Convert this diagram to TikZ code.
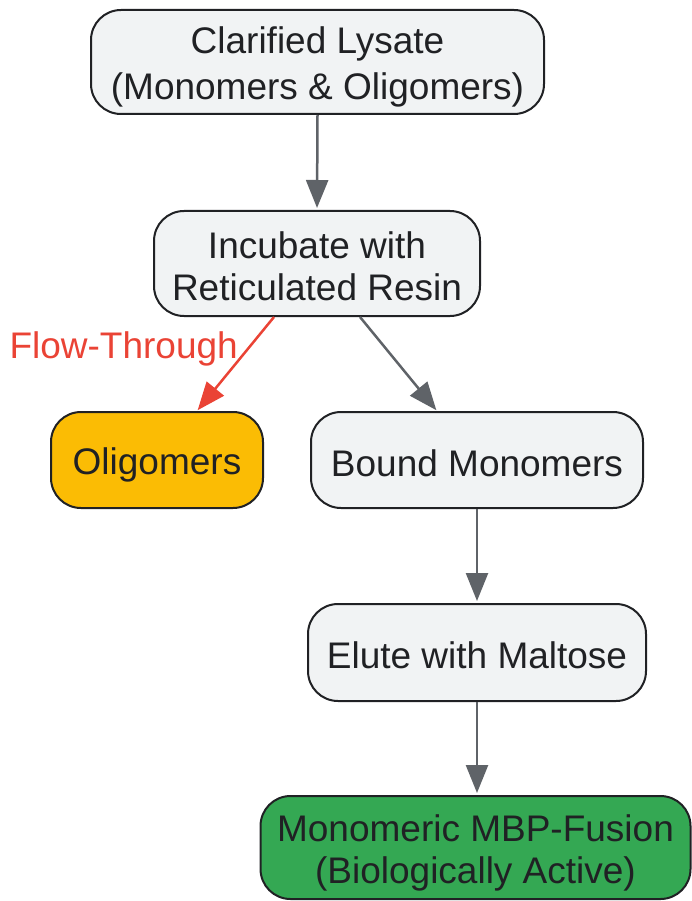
\documentclass[tikz,border=0pt]{standalone}
\usepackage{fontspec}
\setmainfont{Liberation Sans}
\usetikzlibrary{arrows.meta}
\definecolor{boxfill}{HTML}{F1F3F4}
\definecolor{boxline}{HTML}{202124}
\definecolor{arrowgray}{HTML}{5F6368}
\definecolor{flowred}{HTML}{EA4335}
\definecolor{olifill}{HTML}{FBBC04}
\definecolor{monofill}{HTML}{34A853}
\newcommand\lnstrut{\rule[-5pt]{0pt}{42pt}}
\begin{document}
\begin{tikzpicture}[x=1pt,y=-1pt,
  stepbox/.style={draw=boxline, line width=2pt, fill=boxfill, rounded corners=30pt,
    text=boxline, align=center, inner sep=0pt,
    font=\fontsize{37}{42}\selectfont},
  flow/.style={draw=arrowgray, line width=2.5pt, -{Triangle[length=28pt,width=22pt]}},
  redflow/.style={draw=flowred, line width=2.5pt, -{Triangle[length=28pt,width=22pt]}}]
\useasboundingbox (0,0) rectangle (692,901);
\node[stepbox, minimum width=453pt, minimum height=104pt] (lys) at (317.5,62) {\lnstrut Clarified Lysate\\\lnstrut(Monomers \& Oligomers)};
\node[stepbox, minimum width=326pt, minimum height=105pt] (inc) at (317,263.5) {\lnstrut Incubate with\\\lnstrut Reticulated Resin};
\node[stepbox, fill=olifill, minimum width=212pt, minimum height=96pt] (oli) at (157,460) {\lnstrut Oligomers};
\node[stepbox, minimum width=332pt, minimum height=96pt] (bound) at (477,460) {\lnstrut Bound Monomers};
\node[stepbox, minimum width=338pt, minimum height=97pt] (elute) at (477,652.5) {\lnstrut Elute with Maltose};
\node[stepbox, fill=monofill, minimum width=430pt, minimum height=103pt] (mono) at (475.5,847.5) {\lnstrut Monomeric MBP-Fusion\\\lnstrut(Biologically Active)};
\draw[flow, shorten >=2pt] (lys.south) -- (inc.north);
\draw[redflow, shorten >=1pt] ([xshift=-43pt]inc.south) -- node[pos=0.337, anchor=east, xshift=-9pt, inner sep=0pt, text=flowred, font=\fontsize{37}{42}\selectfont] (ftlabel) {Flow-Through} ([xshift=40pt]oli.north);
\draw[flow, shorten >=1pt] ([xshift=43pt]inc.south) -- ([xshift=-40pt]bound.north);
\draw[flow, shorten >=2pt] (bound.south) -- (elute.north);
\draw[flow, shorten >=2pt] (elute.south) -- (elute.south |- mono.north);
\end{tikzpicture}
\end{document}
